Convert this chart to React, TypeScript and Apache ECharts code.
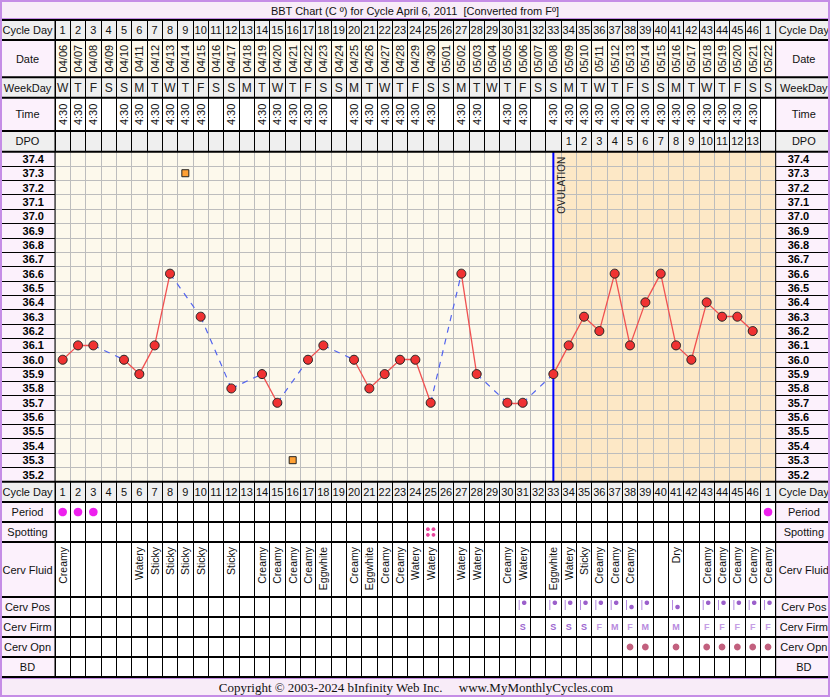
import React, { useEffect, useRef } from "react";
import * as echarts from "echarts";

// ---------------- DATA ----------------
const CYCLE_DAYS = ["1","2","3","4","5","6","7","8","9","10","11","12","13","14","15","16","17","18","19","20","21","22","23","24","25","26","27","28","29","30","31","32","33","34","35","36","37","38","39","40","41","42","43","44","45","46","1"];
const DATES = ["04/06","04/07","04/08","04/09","04/10","04/11","04/12","04/13","04/14","04/15","04/16","04/17","04/18","04/19","04/20","04/21","04/22","04/23","04/24","04/25","04/26","04/27","04/28","04/29","04/30","05/01","05/02","05/03","05/04","05/05","05/06","05/07","05/08","05/09","05/10","05/11","05/12","05/13","05/14","05/15","05/16","05/17","05/18","05/19","05/20","05/21","05/22"];
const WEEKDAYS = ["W","T","F","S","S","M","T","W","T","F","S","S","M","T","W","T","F","S","S","M","T","W","T","F","S","S","M","T","W","T","F","S","S","M","T","W","T","F","S","S","M","T","W","T","F","S","S"];
const TIMES = ["4:30","4:30","4:30","","4:30","4:30","4:30","4:30","4:30","4:30","","4:30","","4:30","4:30","4:30","4:30","4:30","","4:30","4:30","4:30","4:30","4:30","4:30","","4:30","4:30","","4:30","4:30","","4:30","4:30","4:30","4:30","4:30","4:30","4:30","4:30","4:30","4:30","4:30","4:30","4:30","4:30",""];
const DPO = ["","","","","","","","","","","","","","","","","","","","","","","","","","","","","","","","","","1","2","3","4","5","6","7","8","9","10","11","12","13",""];
const TEMPS: (number | null)[] = [36.0,36.1,36.1,null,36.0,35.9,36.1,36.6,null,36.3,null,35.8,null,35.9,35.7,null,36.0,36.1,null,36.0,35.8,35.9,36.0,36.0,35.7,null,36.6,35.9,null,35.7,35.7,null,35.9,36.1,36.3,36.2,36.6,36.1,36.4,36.6,36.1,36.0,36.4,36.3,36.3,36.2,null];
const DISCARDED: [number, number][] = [[9, 37.3], [16, 35.3]]; // [cycle column, temp]
const TEMP_TICKS = ["35.2","35.3","35.4","35.5","35.6","35.7","35.8","35.9","36.0","36.1","36.2","36.3","36.4","36.5","36.6","36.7","36.8","36.9","37.0","37.1","37.2","37.3","37.4"];
const OVULATION_COL = 33;
const PERIOD_COLS = [1, 2, 3, 47];
const SPOTTING_COLS = [25];
const FLUID = ["Creamy","","","","","Watery","Sticky","Sticky","Sticky","Sticky","","Sticky","","Creamy","Creamy","Creamy","Creamy","Eggwhite","","Creamy","Eggwhite","Creamy","Creamy","Watery","Watery","","Watery","Watery","","Creamy","Watery","","Eggwhite","Watery","Sticky","Creamy","Creamy","Creamy","","","Dry","","Creamy","Creamy","Creamy","Creamy","Creamy"];
const CERV_POS: [number, string][] = [[31,"H"],[33,"H"],[34,"H"],[35,"H"],[36,"H"],[37,"H"],[38,"M"],[39,"H"],[41,"M"],[43,"H"],[44,"H"],[45,"H"],[46,"H"],[47,"H"]];
const CERV_FIRM: [number, string][] = [[31,"S"],[33,"S"],[34,"S"],[35,"S"],[36,"F"],[37,"M"],[38,"F"],[39,"M"],[41,"M"],[43,"F"],[44,"F"],[45,"F"],[46,"F"],[47,"F"]];
const CERV_OPN_COLS = [38, 39, 41, 43, 44, 45, 46, 47];

const TITLE = "BBT Chart (C \u00ba) for Cycle April 6, 2011\u00a0\u00a0[Converted from F\u00ba]";
const FOOTER = "Copyright \u00a9 2003-2024 bInfinity Web Inc.\u00a0\u00a0\u00a0\u00a0\u00a0www.MyMonthlyCycles.com";

// ---------------- LAYOUT ----------------
const W = 830, H = 697;
const COL_L = 55, COL_R = 775.7;
const TITLE_BOTTOM = 20;
const TEMP_TOP = 151.7, TEMP_BOTTOM = 481.7;
const FOOTER_TOP = 677;
const FONT = "'Liberation Sans', Arial, Helvetica, sans-serif";
const SERIF = "'Liberation Serif', 'Times New Roman', serif";
const GRAY = "#efefef", PINK = "#fcf1fc", CREAM = "#fdf9ec", WHITE = "#ffffff", LUTEAL = "#fde8c6";

type Row = { kind: string; label: string; top: number; bottom: number; labelBg: string; cellBg: string };
const TOP_ROWS: Row[] = [
  { kind: "cycle", label: "Cycle Day", top: 20, bottom: 40, labelBg: GRAY, cellBg: GRAY },
  { kind: "date", label: "Date", top: 40, bottom: 77.3, labelBg: PINK, cellBg: CREAM },
  { kind: "weekday", label: "WeekDay", top: 77.3, bottom: 97.7, labelBg: GRAY, cellBg: GRAY },
  { kind: "time", label: "Time", top: 97.7, bottom: 131, labelBg: PINK, cellBg: WHITE },
  { kind: "dpo", label: "DPO", top: 131, bottom: TEMP_TOP, labelBg: GRAY, cellBg: GRAY },
];
const BOTTOM_ROWS: Row[] = [
  { kind: "cycle", label: "Cycle Day", top: TEMP_BOTTOM, bottom: 502, labelBg: GRAY, cellBg: GRAY },
  { kind: "period", label: "Period", top: 502, bottom: 522, labelBg: PINK, cellBg: WHITE },
  { kind: "spotting", label: "Spotting", top: 522, bottom: 542, labelBg: PINK, cellBg: WHITE },
  { kind: "fluid", label: "Cerv Fluid", top: 542, bottom: 597, labelBg: PINK, cellBg: WHITE },
  { kind: "pos", label: "Cerv Pos", top: 597, bottom: 617, labelBg: PINK, cellBg: WHITE },
  { kind: "firm", label: "Cerv Firm", top: 617, bottom: 637, labelBg: PINK, cellBg: WHITE },
  { kind: "opn", label: "Cerv Opn", top: 637, bottom: 657, labelBg: PINK, cellBg: WHITE },
  { kind: "bd", label: "BD", top: 657, bottom: FOOTER_TOP, labelBg: PINK, cellBg: WHITE },
];

const font = (size: number, weight = "normal", fam = FONT) => `${weight} ${size}px ${fam}`;
const textStyle = (text: string, f: string, fill: string, align = "center", valign = "middle") => ({
  text, font: f, fill, textAlign: align, textVerticalAlign: valign, align, verticalAlign: valign,
});

const nonEmpty = (arr: string[]) => arr.map((t, i) => (t ? i : -1)).filter((i) => i >= 0);
const posMap = new Map(CERV_POS.map(([c, v]) => [c - 1, v]));
const firmMap = new Map(CERV_FIRM.map(([c, v]) => [c - 1, v]));
const FIRM_COLORS: Record<string, string> = { S: "#9c66cf", M: "#b88ade", F: "#c59de4" };

function rowCells(kind: string): number[] {
  switch (kind) {
    case "cycle": return CYCLE_DAYS.map((_, i) => i);
    case "date": return DATES.map((_, i) => i);
    case "weekday": return WEEKDAYS.map((_, i) => i);
    case "time": return nonEmpty(TIMES);
    case "dpo": return nonEmpty(DPO);
    case "period": return PERIOD_COLS.map((c) => c - 1);
    case "spotting": return SPOTTING_COLS.map((c) => c - 1);
    case "fluid": return nonEmpty(FLUID);
    case "pos": return [...posMap.keys()];
    case "firm": return [...firmMap.keys()];
    case "opn": return CERV_OPN_COLS.map((c) => c - 1);
    default: return [];
  }
}

function renderCell(kind: string, i: number, api: any, params: any): any {
  const p = api.coord([i, 0]);
  const x = p[0], y = p[1];
  const cs = params.coordSys;
  switch (kind) {
    case "cycle":
      return { type: "text", x, y, style: textStyle(CYCLE_DAYS[i], font(11), "#111") };
    case "weekday":
      return { type: "text", x, y, style: textStyle(WEEKDAYS[i], font(12), "#222") };
    case "dpo":
      return { type: "text", x, y, style: textStyle(DPO[i], font(11), "#111") };
    case "date":
      return { type: "text", x, y, rotation: Math.PI / 2, style: textStyle(DATES[i], font(11), "#111") };
    case "time":
      return { type: "text", x, y, rotation: Math.PI / 2, style: textStyle(TIMES[i], font(11), "#111") };
    case "fluid":
      return { type: "text", x, y: cs.y + 5, rotation: Math.PI / 2, style: textStyle(FLUID[i], font(10.5), "#111", "right", "middle") };
    case "period":
      return { type: "circle", shape: { cx: x, cy: y, r: 4.3 }, style: { fill: "#ee1fee" } };
    case "spotting":
      return {
        type: "group",
        children: [[-2.8, -2.8], [2.8, -2.8], [-2.8, 2.8], [2.8, 2.8]].map(([dx, dy]) => ({
          type: "circle", shape: { cx: x + dx, cy: y + dy, r: 1.9 }, style: { fill: "#e8449c" },
        })),
      };
    case "pos": {
      const v = posMap.get(i);
      return {
        type: "group",
        children: [
          { type: "line", shape: { x1: x - 3.5, y1: y - 7, x2: x - 3.5, y2: y + 3 }, style: { stroke: "#b48be0", lineWidth: 1 } },
          { type: "circle", shape: { cx: x + 1.5, cy: v === "H" ? y - 4.3 : y, r: 2.3 }, style: { fill: "#9b5fcb" } },
        ],
      };
    }
    case "firm": {
      const v = firmMap.get(i) || "";
      return { type: "text", x, y: y - 0.5, style: textStyle(v, font(9, "bold"), FIRM_COLORS[v] || "#a070d0") };
    }
    case "opn":
      return { type: "circle", shape: { cx: x, cy: y, r: 3.4 }, style: { fill: "#c2607e" } };
  }
  return { type: "group", children: [] };
}

function buildOption(): any {
  const grids: any[] = [], xAxes: any[] = [], yAxes: any[] = [], series: any[] = [];
  const cat = (gi: number, data: string[], extra: any = {}) => ({
    gridIndex: gi, type: "category", data, boundaryGap: true,
    axisLine: { show: false }, axisTick: { show: false }, axisLabel: { show: false }, splitLine: { show: false },
    ...extra,
  });
  const gridBase = { show: true, borderWidth: 0, containLabel: false, outerBoundsMode: "none" };

  // table rows
  [...TOP_ROWS, ...BOTTOM_ROWS].forEach((row) => {
    const gi = grids.length;
    grids.push({ ...gridBase, left: COL_L, top: row.top, width: COL_R - COL_L, height: row.bottom - row.top, backgroundColor: row.cellBg });
    const xi = xAxes.length;
    xAxes.push(cat(gi, DATES, { splitLine: { show: true, interval: 0, lineStyle: { color: "#000", width: 1 } } }));
    const yi = yAxes.length;
    yAxes.push(cat(gi, [row.label]));
    const cells = rowCells(row.kind);
    if (cells.length) {
      series.push({
        type: "custom", xAxisIndex: xi, yAxisIndex: yi, z: 3, silent: true,
        data: cells.map((c) => [c, 0]),
        renderItem: (params: any, api: any) => renderCell(row.kind, api.value(0), api, params),
      });
    }
  });

  // temperature grid
  const tg = grids.length;
  grids.push({ ...gridBase, left: COL_L, top: TEMP_TOP, width: COL_R - COL_L, height: TEMP_BOTTOM - TEMP_TOP, backgroundColor: CREAM });
  const tx = xAxes.length;
  xAxes.push(cat(tg, DATES, { z: 2, splitLine: { show: true, interval: 0, lineStyle: { color: "#bdbdbd", width: 1 } } }));
  const tyc = yAxes.length;
  yAxes.push(cat(tg, TEMP_TICKS, { z: 2, position: "left", splitLine: { show: true, interval: 0, lineStyle: { color: "#bdbdbd", width: 1 } } }));
  const tyv = yAxes.length;
  yAxes.push({ gridIndex: tg, type: "value", min: 35.15, max: 37.45, show: false, position: "right" });

  const recorded: [number, number][] = [];
  TEMPS.forEach((t, i) => { if (t != null) recorded.push([i, t]); });
  const solid: any[] = [], dashed: any[] = [];
  for (let k = 1; k < recorded.length; k++) {
    const a = recorded[k - 1], b = recorded[k];
    (b[0] - a[0] === 1 ? solid : dashed).push({ coords: [a, b] });
  }

  series.push({
    type: "custom", xAxisIndex: tx, yAxisIndex: tyv, z: 1, silent: true,
    data: [[OVULATION_COL - 1, 36]],
    renderItem: (params: any, api: any) => {
      const cs = params.coordSys;
      const x = api.coord([api.value(0), 36])[0];
      return { type: "rect", shape: { x, y: cs.y, width: cs.x + cs.width - x, height: cs.height }, style: { fill: LUTEAL } };
    },
  });
  series.push({
    type: "lines", coordinateSystem: "cartesian2d", xAxisIndex: tx, yAxisIndex: tyv, z: 4, silent: true,
    data: dashed, lineStyle: { color: "#5263ee", width: 1.2, type: [6, 6], opacity: 1, curveness: 0 },
  });
  series.push({
    type: "lines", coordinateSystem: "cartesian2d", xAxisIndex: tx, yAxisIndex: tyv, z: 5, silent: true,
    data: solid, lineStyle: { color: "#f05050", width: 1.3, type: "solid", opacity: 1, curveness: 0 },
  });
  series.push({
    type: "custom", xAxisIndex: tx, yAxisIndex: tyv, z: 6, silent: true,
    data: [[OVULATION_COL - 1, 36]],
    renderItem: (params: any, api: any) => {
      const cs = params.coordSys;
      const x = api.coord([api.value(0), 36])[0];
      return {
        type: "group",
        children: [
          { type: "line", shape: { x1: x, y1: cs.y, x2: x, y2: cs.y + cs.height }, style: { stroke: "#0000ff", lineWidth: 2 } },
          { type: "text", x: x + 8, y: cs.y + 5, rotation: Math.PI / 2, style: textStyle("OVULATION", font(10), "#222", "right", "middle") },
        ],
      };
    },
  });
  series.push({
    type: "scatter", xAxisIndex: tx, yAxisIndex: tyv, z: 7, silent: true,
    data: recorded, symbol: "circle", symbolSize: 9,
    itemStyle: { color: "#f03232", borderColor: "#222", borderWidth: 1, opacity: 1 },
  });
  series.push({
    type: "scatter", xAxisIndex: tx, yAxisIndex: tyv, z: 7, silent: true,
    data: DISCARDED.map(([c, t]) => [c - 1, t]), symbol: "rect", symbolSize: 7,
    itemStyle: { color: "#ffa033", borderColor: "#222", borderWidth: 1, opacity: 1 },
  });

  // temperature label columns
  [
    { left: 1, width: COL_L - 1, margin: 43, align: "right" },
    { left: COL_R, width: W - 1 - COL_R, margin: 12, align: "left" },
  ].forEach((c) => {
    const gi = grids.length;
    grids.push({ ...gridBase, show: false, left: c.left, top: TEMP_TOP, width: c.width, height: TEMP_BOTTOM - TEMP_TOP });
    xAxes.push({ gridIndex: gi, type: "value", show: false, min: 0, max: 1 });
    yAxes.push(cat(gi, TEMP_TICKS, {
      position: "left",
      axisLabel: { show: true, inside: true, margin: c.margin, align: c.align, interval: 0, fontSize: 11, fontWeight: "bold", color: "#000", fontFamily: FONT },
      splitLine: { show: true, interval: 0, lineStyle: { color: "#000", width: 1 } },
    }));
  });

  // graphics: label cells, title, footer, rules
  const allRows = [...TOP_ROWS, ...BOTTOM_ROWS];
  const g: any[] = [];
  g.push({ type: "rect", z: 1, shape: { x: 0, y: 0, width: W, height: TITLE_BOTTOM }, style: { fill: "#f8ecf8" } });
  g.push({ type: "rect", z: 1, shape: { x: 0, y: FOOTER_TOP, width: W, height: H - FOOTER_TOP }, style: { fill: "#f8ecf8" } });
  allRows.forEach((r) => {
    if (r.labelBg !== PINK) {
      g.push({ type: "rect", z: 1, shape: { x: 0, y: r.top, width: COL_L, height: r.bottom - r.top }, style: { fill: r.labelBg } });
      g.push({ type: "rect", z: 1, shape: { x: COL_R, y: r.top, width: W - COL_R, height: r.bottom - r.top }, style: { fill: r.labelBg } });
    }
    const my = (r.top + r.bottom) / 2;
    g.push({ type: "text", z: 2, x: COL_L / 2, y: my, style: textStyle(r.label, font(11), "#111") });
    g.push({ type: "text", z: 2, x: (COL_R + W) / 2 + 1, y: my, style: textStyle(r.label, font(11), "#111") });
  });
  g.push({ type: "text", z: 2, x: W / 2, y: TITLE_BOTTOM / 2 + 0.5, style: textStyle(TITLE, font(11), "#111") });
  g.push({ type: "text", z: 2, x: W / 2 + 1, y: (FOOTER_TOP + H) / 2 + 0.5, style: textStyle(FOOTER, font(13, "normal", SERIF), "#111") });
  const bounds = Array.from(new Set(allRows.flatMap((r) => [r.top, r.bottom])));
  bounds.forEach((y) => g.push({ type: "line", z: 100, shape: { x1: 0, y1: y, x2: W, y2: y }, style: { stroke: "#000", lineWidth: 2 } }));
  [COL_L, COL_R].forEach((x) => g.push({ type: "line", z: 100, shape: { x1: x, y1: TITLE_BOTTOM, x2: x, y2: FOOTER_TOP }, style: { stroke: "#000", lineWidth: 1 } }));
  g.push({ type: "line", z: 101, shape: { x1: 0, y1: TITLE_BOTTOM - 1.5, x2: W, y2: TITLE_BOTTOM - 1.5 }, style: { stroke: "#c58de6", lineWidth: 1 } });
  g.push({ type: "line", z: 101, shape: { x1: 0, y1: FOOTER_TOP + 1.5, x2: W, y2: FOOTER_TOP + 1.5 }, style: { stroke: "#c58de6", lineWidth: 1 } });
  g.push({ type: "rect", z: 102, shape: { x: 1, y: 1, width: W - 2, height: H - 2 }, style: { fill: "none", stroke: "#c58de6", lineWidth: 2 } });

  return {
    animation: false,
    backgroundColor: PINK,
    textStyle: { fontFamily: FONT },
    grid: grids, xAxis: xAxes, yAxis: yAxes, series, graphic: { elements: g },
  };
}

export default function App() {
  const ref = useRef<HTMLDivElement>(null);
  useEffect(() => {
    const chart = echarts.init(ref.current!, null, { renderer: "svg", width: W, height: H });
    chart.setOption(buildOption());
    return () => chart.dispose();
  }, []);
  return <div ref={ref} style={{ position: "absolute", left: 0, top: 0, width: W, height: H }} />;
}
